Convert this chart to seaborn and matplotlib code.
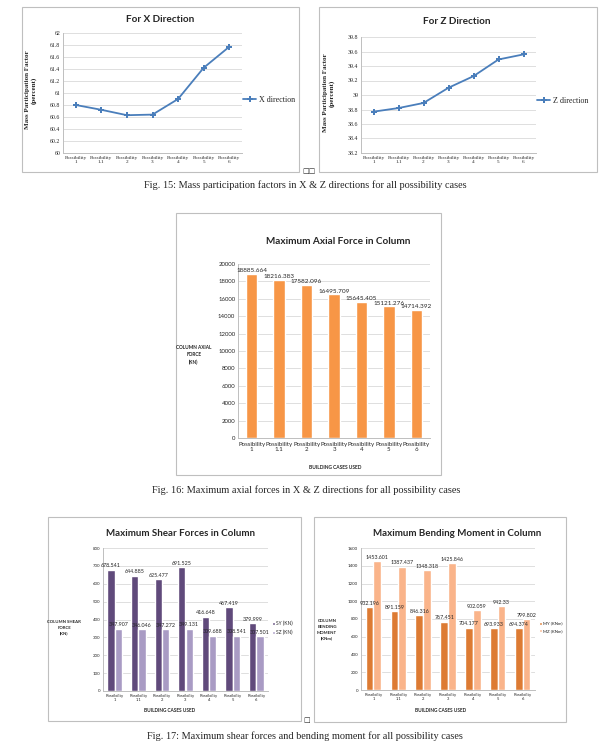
import numpy as np
import pandas as pd
import seaborn as sns
import matplotlib.pyplot as plt
from matplotlib.patches import Rectangle

# Style first, fonts after (set_style resets font.family)
sns.set_style('white')
plt.rcParams['font.family'] = ['Lato', 'DejaVu Sans']
SERIF = ['Liberation Serif', 'DejaVu Serif']

W, H = 613, 748

# Data
cases = ['Possibility\n1', 'Possibility\n1.1', 'Possibility\n2', 'Possibility\n3',
         'Possibility\n4', 'Possibility\n5', 'Possibility\n6']
x_direction = [60.80, 60.72, 60.63, 60.64, 60.90, 61.42, 61.77]
z_direction = [38.77, 38.82, 38.89, 39.10, 39.26, 39.49, 39.56]
axial_force = [18885.664, 18216.383, 17582.096, 16495.709, 15645.405, 15121.276, 14714.392]
shear_sy = [678.541, 644.885, 625.477, 691.525, 416.648, 467.419, 379.999]
shear_sz = [347.907, 346.046, 347.272, 349.131, 309.688, 308.541, 307.501]
moment_my = [932.196, 891.159, 846.316, 767.451, 704.177, 693.933, 694.374]
moment_mz = [1453.601, 1387.437, 1348.318, 1425.846, 902.059, 942.33, 799.802]

BLUE = '#4A7EBB'
ORANGE = '#F79646'
PURPLE_D = '#604A7B'
PURPLE_L = '#A99BC4'
ORANGE_D = '#DD7B33'
ORANGE_L = '#FAB48A'
GRID = '#D9D9D9'
EDGE = '#BFBFBF'

fig = plt.figure(figsize=(W / 100, H / 100), dpi=100)


def area(x0, y0, x1, y1):
    return [x0 / W, 1 - y1 / H, (x1 - x0) / W, (y1 - y0) / H]


def box(x0, y0, x1, y1):
    fig.patches.append(Rectangle((x0 / W, 1 - y1 / H), (x1 - x0) / W, (y1 - y0) / H,
                                 transform=fig.transFigure, fill=False, ec=EDGE, lw=0.8))


def ftext(x, y, s, **kw):
    fig.text(x / W, 1 - y / H, s, **kw)


def style_axes(ax):
    ax.grid(axis='y', color=GRID, lw=0.6)
    ax.set_axisbelow(True)
    for s in ['top', 'right']:
        ax.spines[s].set_visible(False)
    for s in ['left', 'bottom']:
        ax.spines[s].set_color(EDGE)
        ax.spines[s].set_linewidth(0.7)
    ax.tick_params(length=0, pad=2)
    ax.set_xlabel('')
    ax.set_ylabel('')


def line_panel(rect, values, lo, hi, label, legend_y):
    ax = fig.add_axes(area(*rect))
    pos = np.arange(len(cases))
    sns.lineplot(x=pos, y=values, ax=ax, color=BLUE, lw=1.3, marker='P',
                 markersize=4, markeredgewidth=0, label=label)
    ax.set_xlim(-0.5, len(cases) - 0.5)
    ax.set_ylim(lo, hi)
    ax.set_yticks(np.arange(lo, hi + 0.01, 0.2))
    ax.yaxis.set_major_formatter(lambda v, p: f'{round(v, 1):g}')
    ax.set_xticks(pos)
    ax.set_xticklabels(cases, family=SERIF, fontsize=3.8, linespacing=1.0)
    for t in ax.get_yticklabels():
        t.set_family(SERIF)
        t.set_fontsize(4.2)
    style_axes(ax)
    ax.legend(loc='center left', bbox_to_anchor=(0.99, legend_y), frameon=False,
              prop={'family': SERIF, 'size': 5.8}, handlelength=1.6,
              handletextpad=0.3, borderaxespad=0)
    return ax


# ---- Fig. 15 : mass participation factors
box(22, 7, 299, 172)
box(319, 7, 597, 172)
line_panel((63, 33, 242, 153), x_direction, 60, 62, 'X direction', 0.44)
line_panel((361, 37, 536, 153), z_direction, 38.2, 39.8, 'Z direction', 0.45)
ftext(160, 20, 'For X Direction', fontsize=7.2, fontweight='bold', ha='center', va='center')
ftext(457, 22, 'For Z Direction', fontsize=7.2, fontweight='bold', ha='center', va='center')
ftext(31, 90, 'Mass Participation Factor\n(percent)', family=SERIF, fontsize=5,
      fontweight='bold', rotation=90, ha='center', va='center', multialignment='center')
ftext(329, 93, 'Mass Participation Factor\n(percent)', family=SERIF, fontsize=5,
      fontweight='bold', rotation=90, ha='center', va='center', multialignment='center')
ftext(309, 171, '\u25a1\u25a1', family=['DejaVu Sans'], fontsize=5, ha='center', va='center')
ftext(305, 185, 'Fig. 15: Mass participation factors in X & Z directions for all possibility cases',
      family=SERIF, fontsize=7.4, ha='center', va='center')

# ---- Fig. 16 : axial force
box(176, 213, 441, 475)
ax = fig.add_axes(area(238, 264, 430, 438))
sns.barplot(x=cases, y=axial_force, color=ORANGE, saturation=1, width=0.42, ax=ax)
ax.set_ylim(0, 20000)
ax.set_yticks(np.arange(0, 20001, 2000))
style_axes(ax)
ax.tick_params(axis='x', labelsize=4.4, pad=3)
ax.tick_params(axis='y', labelsize=4.3)
for t in ax.get_xticklabels():
    t.set_linespacing(1.0)
ax.bar_label(ax.containers[0], labels=[str(v) for v in axial_force], fontsize=4.6, padding=0.5)
ftext(338, 242, 'Maximum Axial Force in Column', fontsize=7.2, fontweight='bold',
      ha='center', va='center')
ftext(194, 355, 'COLUMN AXIAL\nFORCE\n(KN)', fontsize=3.4, fontweight='bold',
      ha='center', va='center', multialignment='center', linespacing=1.6)
ftext(335, 468, 'BUILDING CASES USED', fontsize=3.5, fontweight='bold', ha='center', va='center')
ftext(306, 490, 'Fig. 16: Maximum axial forces in X & Z directions for all possibility cases',
      family=SERIF, fontsize=7.4, ha='center', va='center')


# ---- Fig. 17 : shear forces and bending moments
def grouped_panel(rect, first, second, names, colors, ymax, step, leg_size):
    df = pd.DataFrame({
        'case': cases * 2,
        'value': first + second,
        'series': [names[0]] * len(cases) + [names[1]] * len(cases),
    })
    ax = fig.add_axes(area(*rect))
    sns.barplot(data=df, x='case', y='value', hue='series', palette=colors,
                saturation=1, width=0.62, ax=ax)
    ax.set_ylim(0, ymax)
    ax.set_yticks(np.arange(0, ymax + 1, step))
    style_axes(ax)
    ax.tick_params(axis='x', labelsize=3.0, pad=2)
    ax.tick_params(axis='y', labelsize=3.2)
    for t in ax.get_xticklabels():
        t.set_linespacing(1.1)
    for cont, vals in zip(ax.containers, [first, second]):
        ax.bar_label(cont, labels=[str(v) for v in vals], fontsize=3.9, padding=1)
    handles, labels = ax.get_legend_handles_labels()
    ax.legend(handles, labels, loc='center left', bbox_to_anchor=(1.01, 0.44),
              frameon=False, fontsize=leg_size, handlelength=0.7, handleheight=0.7,
              handletextpad=0.3, labelspacing=0.8, borderaxespad=0)
    return ax


box(48, 517, 301, 721)
box(314, 517, 566, 722)
grouped_panel((103, 548, 268, 691), shear_sy, shear_sz, ['SY (KN)', 'SZ (KN)'],
              [PURPLE_D, PURPLE_L], 800, 100, 3.5)
grouped_panel((361, 548, 535, 690), moment_my, moment_mz, ['MY (KNm)', 'MZ (KNm)'],
              [ORANGE_D, ORANGE_L], 1600, 200, 3.2)
ftext(180, 534, 'Maximum Shear Forces in Column', fontsize=7, fontweight='bold',
      ha='center', va='center')
ftext(457, 534, 'Maximum Bending Moment in Column', fontsize=7, fontweight='bold',
      ha='center', va='center')
ftext(64, 628, 'COLUMN SHEAR\nFORCE\n(KN)', fontsize=3.1, fontweight='bold',
      ha='center', va='center', multialignment='center', linespacing=1.6)
ftext(327, 630, 'COLUMN\nBENDING\nMOMENT\n(KNm)', fontsize=3.1, fontweight='bold',
      ha='center', va='center', multialignment='center', linespacing=1.6)
ftext(170, 711, 'BUILDING CASES USED', fontsize=3.4, fontweight='bold', ha='center', va='center')
ftext(441, 711, 'BUILDING CASES USED', fontsize=3.4, fontweight='bold', ha='center', va='center')
ftext(307, 720, '\u25a1', family=['DejaVu Sans'], fontsize=5, ha='center', va='center')
ftext(305, 736, 'Fig. 17: Maximum shear forces and bending moment for all possibility cases',
      family=SERIF, fontsize=7.4, ha='center', va='center')

fig.savefig('out.png', dpi=100)
